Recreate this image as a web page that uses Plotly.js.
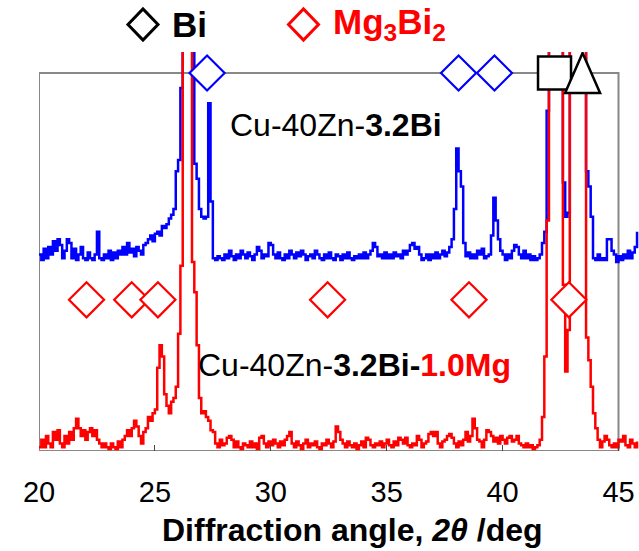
<!DOCTYPE html>
<html>
<head>
<meta charset="utf-8">
<script src="https://cdn.plot.ly/plotly-3.0.1.min.js"></script>
<style>html,body{margin:0;padding:0;background:#fff;}#chart{width:639px;height:551px;}</style>
</head>
<body>
<div id="chart"></div>
<script>
// ---- DATA ----
// 2θ scan grid (deg)
const scanStart = 20.0;
const scanStep = 0.1;
// Cu-40Zn-3.2Bi (blue, offset pattern), one value per 0.1 deg from 20.0 to 45.8
const intensityBi = [
  52, 50.5, 53.5, 51, 54, 52, 55.5, 53, 56, 54.5,
  51, 53, 56, 55, 51, 53.5, 50.5, 52, 54, 51,
  50.5, 52.5, 51, 50.5, 52, 58, 51, 50.5, 52, 51,
  53, 50.5, 52.5, 51, 53, 52, 54, 52, 55, 52.5,
  53.5, 51.5, 54, 53, 52, 54.5, 55, 56, 57, 55.5,
  57.5, 58, 57, 59.5, 59, 60, 61.5, 62.5, 64, 74,
  77, 96, 300, 300, 300, 300, 300, 76, 72, 64,
  62, 61.5, 62, 92, 66, 51, 50.5, 51.5, 51, 50.5,
  52, 51, 53, 51.5, 50.5, 52, 51, 53, 52, 51,
  52.5, 51.5, 50.5, 52, 54, 53, 51, 52, 51.5, 55,
  54.5, 52, 51, 52.5, 51, 50.5, 52, 51, 53, 52,
  51, 52.5, 51.5, 53, 52, 50.5, 51.5, 52, 51, 53,
  52, 51, 50.5, 52, 51, 52.5, 51, 50.5, 52, 51.5,
  50.5, 52, 51, 52.5, 51, 50.5, 51.5, 51, 52, 51,
  52.5, 51, 52, 53, 55, 54, 51.5, 52, 51, 52.5,
  51, 52, 51, 52.5, 51.5, 52, 51, 53, 52, 53,
  54.5, 55, 53.5, 54, 52, 50.5, 51, 52, 50.5, 52,
  51, 52.5, 51, 52, 53, 51.5, 52.5, 54, 56, 64,
  80, 74, 70, 55, 51.5, 52.5, 51, 52, 51, 53,
  52, 53.5, 51, 51.5, 52, 57, 67, 61, 56, 53,
  52, 50.5, 52, 51, 53, 54.5, 54, 52, 51, 53,
  51, 52, 50.5, 51.5, 50.5, 51, 52, 55, 58, 90,
  300, 300, 300, 300, 300, 300, 71, 62, 63, 300,
  300, 300, 300, 300, 300, 300, 74, 70, 62, 51,
  50.5, 52, 50.5, 51, 50.5, 56, 56, 53, 52, 50,
  51.5, 50.5, 52, 51, 53, 51, 52.5, 54, 58
];
// Cu-40Zn-3.2Bi-1.0Mg (red), same grid
const intensityMg = [
  1, 3, 1, 4, 2, 1, 5, 3, 5.5, 2,
  1, 4, 2, 5, 3, 6, 8.5, 6, 4, 5.5,
  3, 5, 6, 4, 5.5, 3, 2, 1, 2, 1,
  0.5, 2, 1, 0.5, 2.5, 1, 3, 4, 5.5, 4,
  6, 8, 6.5, 4, 2, 5, 6, 9, 8, 10,
  11, 22, 28, 25, 15, 12, 10, 13, 14, 17,
  31, 49, 300, 300, 300, 300, 50, 42, 28, 14,
  10, 10.5, 9, 8, 5.5, 5, 2, 1, 3, 1.5,
  2, 3.5, 4, 3, 1, 2.5, 1, 0.5, 2, 1.5,
  1, 2.5, 1, 2, 0.5, 3.5, 4, 2, 1, 2.5,
  1.5, 3, 2, 1, 2.5, 1.5, 3, 4, 5, 2,
  1, 2.5, 1.5, 0.5, 2, 3, 1, 2, 1.5, 2.5,
  1, 0.5, 2, 1.5, 3, 2, 1, 2.5, 6.5, 5,
  3, 2, 1, 2.5, 1.5, 1, 2, 0.5, 1.5, 2.5,
  1, 3.5, 3, 1.5, 1, 2, 1.5, 2.5, 1, 2,
  3, 1.5, 1, 2.5, 1.5, 3.5, 3, 2, 3.5, 1.5,
  1, 2, 1.5, 4, 3, 1, 2, 2.5, 4.5, 5,
  4, 5, 2, 1, 2.5, 3, 4, 4.5, 3.5, 2,
  1, 2.5, 1.5, 3, 5, 2.5, 4, 8.5, 6, 3,
  2.5, 1, 3, 5.5, 5, 4, 2.5, 3.5, 2, 4,
  3, 2, 3.5, 4, 2.5, 3, 4, 2, 1.5, 1,
  2, 1, 1.5, 0.5, 1, 1.5, 3, 9, 25, 61,
  300, 300, 300, 300, 300, 300, 44, 21, 32, 300,
  300, 300, 300, 300, 300, 300, 30, 24, 17, 10,
  6, 3, 1, 2.5, 4, 3, 1.5, 1, 2, 1,
  3, 2.5, 4, 1.5, 1, 3, 2, 1, 2.5
];
// Peak markers (2θ, deg)
const biPeaks = [27.25, 38.1, 39.65];
const mg3bi2Peaks = [22.05, 24.0, 25.13, 32.45, 38.55, 42.86];
const squarePeaks = [42.24];
const trianglePeaks = [43.45];
// Tick labels
const tickValues = [20, 25, 30, 35, 40, 45];
const tickLabels = ['20', '25', '30', '35', '40', '45'];

// ---- STYLE / LAYOUT ----
const FONT = 'Liberation Sans, Arial, sans-serif';
const boxTop = 100;     // frame top level
const mgRow = 40;       // level of Mg3Bi2 markers
const twoTheta = intensityBi.map((_, i) => +(scanStart + i * scanStep).toFixed(1));

const traces = [
  {x: twoTheta, y: intensityBi, mode: 'lines', line: {color: '#0000ff', width: 2.5, shape: 'hv'}, hoverinfo: 'skip'},
  {x: twoTheta, y: intensityMg, mode: 'lines', line: {color: '#ff0000', width: 2.5, shape: 'hv'}, hoverinfo: 'skip'},
  {x: biPeaks, y: biPeaks.map(() => boxTop), mode: 'markers', cliponaxis: false,
   marker: {symbol: 'diamond', size: 27, color: '#ffffff', line: {color: '#0000ff', width: 2.2}}},
  {x: mg3bi2Peaks, y: mg3bi2Peaks.map(() => mgRow), mode: 'markers', cliponaxis: false,
   marker: {symbol: 'diamond', size: 27, color: '#ffffff', line: {color: '#ff0000', width: 2.2}}},
  {x: squarePeaks, y: squarePeaks.map(() => boxTop), mode: 'markers', cliponaxis: false,
   marker: {symbol: 'square', size: 33, color: '#ffffff', line: {color: '#000000', width: 2.5}}}
];

const shapes = [
  {type: 'rect', xref: 'x', yref: 'y', x0: tickValues[0], x1: tickValues[tickValues.length - 1], y0: 0, y1: boxTop,
   line: {color: '#888888', width: 2}, layer: 'below'}
];
trianglePeaks.forEach(p => shapes.push({
  type: 'path', xref: 'x', yref: 'y', xsizemode: 'pixel', ysizemode: 'pixel', xanchor: p, yanchor: boxTop,
  path: 'M-17.5,-20L0,20L17.5,-20Z', fillcolor: '#ffffff', line: {color: '#000000', width: 2.5}, layer: 'above'
}));
// legend keys
[[0.1733, '#000000'], [0.4408, '#ff0000']].forEach(([px, c]) => shapes.push({
  type: 'path', xref: 'paper', yref: 'paper', xsizemode: 'pixel', ysizemode: 'pixel', xanchor: px, yanchor: 1.069,
  path: 'M-15,0L0,15.5L15,0L0,-15.5Z', line: {color: c, width: 3}, layer: 'above'
}));

const annotations = [
  {xref: 'paper', yref: 'paper', x: 0.2183, y: 1.069, xanchor: 'left', yanchor: 'middle', showarrow: false,
   text: '<b>Bi</b>', font: {family: FONT, size: 35, color: '#000000'}},
  {xref: 'paper', yref: 'paper', x: 0.487, y: 1.069, xanchor: 'left', yanchor: 'middle', showarrow: false,
   text: '<b>Mg<sub>3</sub>Bi<sub>2</sub></b>', font: {family: FONT, size: 35, color: '#ff0000'}},
  {xref: 'paper', yref: 'paper', x: 0.315, y: 0.818, xanchor: 'left', yanchor: 'middle', showarrow: false,
   text: 'Cu-40Zn-<b>3.2Bi</b>', font: {family: FONT, size: 32, color: '#000000'}},
  {xref: 'paper', yref: 'paper', x: 0.262, y: 0.2155, xanchor: 'left', yanchor: 'middle', showarrow: false,
   text: 'Cu-40Zn-<b>3.2Bi-</b><b><span style="color:#ff0000">1.0Mg</span></b>', font: {family: FONT, size: 32, color: '#000000'}},
  {xref: 'paper', yref: 'paper', x: 0.5217, y: -0.198, xanchor: 'center', yanchor: 'middle', showarrow: false,
   text: '<b>Diffraction angle, <i>2θ</i> /deg</b>', font: {family: FONT, size: 32, color: '#000000'}}
];

const layout = {
  width: 639, height: 551,
  margin: {l: 39, r: 0, t: 52, b: 100, pad: 0},
  paper_bgcolor: '#ffffff', plot_bgcolor: '#ffffff',
  showlegend: false,
  xaxis: {range: [20, 20 + 600 / 23.18], tickmode: 'array', tickvals: tickValues, ticktext: tickLabels,
          ticks: 'inside', ticklen: 6, tickwidth: 1, tickcolor: '#444444', showgrid: false, zeroline: false,
          showline: false, ticklabelstandoff: 21, tickfont: {family: FONT, size: 29, color: '#000000'}},
  yaxis: {range: [0, 399 / 3.78], visible: false, showgrid: false, zeroline: false},
  shapes: shapes,
  annotations: annotations
};

Plotly.newPlot('chart', traces, layout, {displayModeBar: false, staticPlot: true});
</script>
</body>
</html>
